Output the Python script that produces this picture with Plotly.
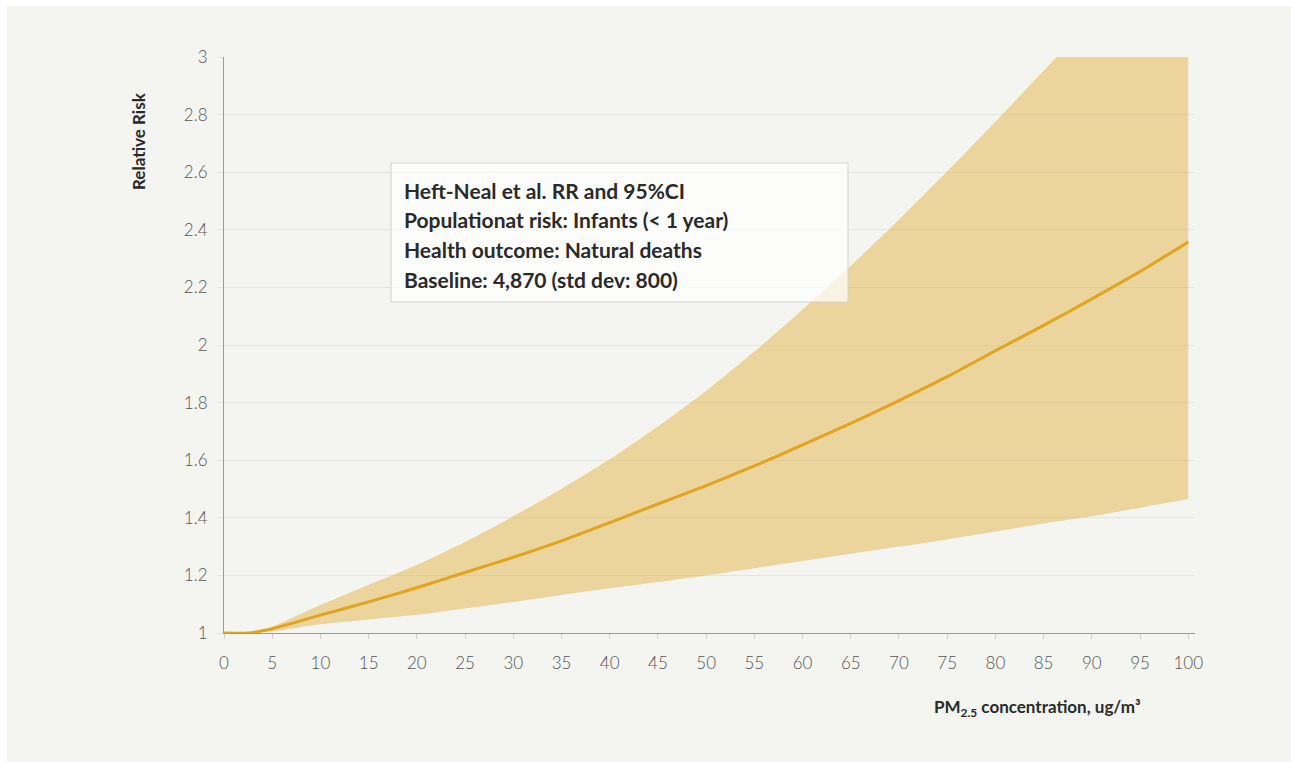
import plotly.graph_objects as go

# PM2.5 concentration (ug/m3)
pm25 = [0, 2.5, 5, 10, 15, 20, 25, 30, 35, 40, 45, 50, 55, 60, 65, 70, 75, 80, 85, 90, 95, 100]
# Relative risk, central estimate
rr_mean = [1.0, 1.0, 1.015, 1.062, 1.108, 1.157, 1.21, 1.263, 1.32, 1.383, 1.448, 1.512, 1.58, 1.653, 1.728, 1.807, 1.89, 1.98, 2.068, 2.16, 2.255, 2.358]
# 95% confidence interval bounds
rr_upper = [1.0, 1.0, 1.022, 1.097, 1.167, 1.236, 1.316, 1.405, 1.5, 1.603, 1.717, 1.84, 1.977, 2.122, 2.275, 2.435, 2.602, 2.775, 2.952, 3.13, 3.31, 3.49]
rr_lower = [1.0, 1.0, 1.005, 1.03, 1.047, 1.063, 1.085, 1.108, 1.132, 1.155, 1.177, 1.2, 1.225, 1.25, 1.275, 1.3, 1.325, 1.352, 1.38, 1.405, 1.435, 1.465]

x_ticks = list(range(0, 101, 5))
y_ticks = [1, 1.2, 1.4, 1.6, 1.8, 2, 2.2, 2.4, 2.6, 2.8, 3]
y_labels = ["1", "1.2", "1.4", "1.6", "1.8", "2", "2.2", "2.4", "2.6", "2.8", "3"]

info_lines = [
    "Heft-Neal et al. RR and 95%CI",
    "Populationat risk: Infants (< 1 year)",
    "Health outcome: Natural deaths",
    "Baseline: 4,870 (std dev: 800)",
]

BAND = "rgba(228,180,74,0.5)"
LINE = "#e2a31f"
PANEL = "#f4f4f0"
FONT = "Lato, 'Open Sans', sans-serif"

fig = go.Figure()
fig.add_trace(go.Scatter(x=pm25, y=rr_lower, mode="lines", line=dict(width=0, color=BAND, shape="spline", smoothing=0.6),
                         hoverinfo="skip", showlegend=False))
fig.add_trace(go.Scatter(x=pm25, y=rr_upper, mode="lines", line=dict(width=0, color=BAND, shape="spline", smoothing=0.6),
                         fill="tonexty", fillcolor=BAND, hoverinfo="skip", showlegend=False))
fig.add_trace(go.Scatter(x=pm25, y=rr_mean, mode="lines", line=dict(width=3, color=LINE, shape="spline", smoothing=0.6),
                         showlegend=False))

# plot-area geometry in pixels (used to place the panel and info box)
L, R, T, B = 224, 1195, 57, 633
W, H = R - L, B - T


def px_x(p):
    return (p - L) / W


def px_y(p):
    return (B - p) / H


shapes = [
    # light panel behind everything
    dict(type="rect", xref="paper", yref="paper", x0=px_x(7), x1=px_x(1295), y0=px_y(766), y1=px_y(6),
         fillcolor=PANEL, line=dict(width=0), layer="below"),
    # info box
    dict(type="rect", xref="paper", yref="paper", x0=px_x(391), x1=px_x(848), y0=px_y(302), y1=px_y(163),
         fillcolor="rgba(255,255,255,0.72)", line=dict(width=1, color="#d2d2d2"), layer="above"),
]

annotations = []
for i, txt in enumerate(info_lines):
    annotations.append(dict(text=txt, xref="paper", yref="paper", x=px_x(402), y=px_y(190 + i * 29.7),
                            xanchor="left", yanchor="middle", showarrow=False,
                            font=dict(family=FONT, size=21, color="#2a2a2a", weight="bold")))
annotations.append(dict(text="Relative Risk", xref="paper", yref="paper", x=px_x(138), y=px_y(141),
                        xanchor="center", yanchor="middle", textangle=-90, showarrow=False,
                        font=dict(family=FONT, size=17, color="#2a2a2a", weight="bold")))
annotations.append(dict(text="PM<sub>2.5</sub> concentration, ug/m³", xref="paper", yref="paper",
                        x=px_x(1037), y=px_y(708), xanchor="center", yanchor="middle", showarrow=False,
                        font=dict(family=FONT, size=17, color="#2a2a2a", weight="bold")))

fig.update_layout(
    width=1291, height=762,
    margin=dict(l=L, r=1291 - R, t=T, b=762 - B),
    paper_bgcolor="white", plot_bgcolor="rgba(0,0,0,0)",
    shapes=shapes, annotations=annotations,
    font=dict(family=FONT, color="#555555"),
    xaxis=dict(range=[0, 100.7], tickvals=x_ticks, showgrid=False, zeroline=False,
               showline=True, linecolor="#9a9a9a", linewidth=1.2,
               ticks="outside", ticklen=5, tickcolor="#cfcfcf", ticklabelstandoff=9,
               tickfont=dict(size=17, color="#555555", family=FONT, weight=300)),
    yaxis=dict(range=[1, 3], tickvals=y_ticks, ticktext=y_labels, showgrid=True, gridcolor="#e4e4e2",
               zeroline=False, showline=True, linecolor="#9a9a9a", linewidth=1.2,
               ticks="outside", ticklen=6, tickcolor="#e4e4e2", ticklabelstandoff=6,
               tickfont=dict(size=17, color="#555555", family=FONT, weight=300)),
)

fig.write_html("out.html")
